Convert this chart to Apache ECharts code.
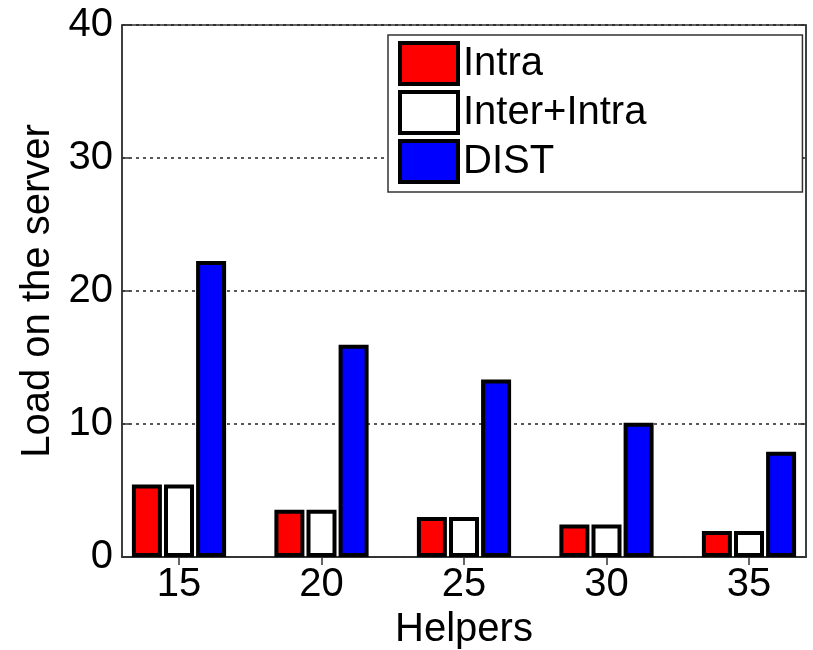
<!DOCTYPE html>
<html>
<head>
<meta charset="utf-8">
<script src="https://cdn.jsdelivr.net/npm/echarts@6/dist/echarts.min.js"></script>
<style>html,body{margin:0;padding:0;background:#fff;}#c{width:813px;height:650px;}</style>
</head>
<body>
<div id="c"></div>
<script>
// Data
var helpers = [15, 20, 25, 30, 35];
var intra = [5.45, 3.56, 3.0, 2.45, 1.95];
var interIntra = [5.45, 3.56, 3.0, 2.45, 1.95];
var dist = [22.25, 15.95, 13.35, 10.1, 7.92];
var seriesNames = ['Intra', 'Inter+Intra', 'DIST'];

function pairs(vals) { return helpers.map(function (h, i) { return [h, vals[i]]; }); }

var FONT = "'Liberation Sans', Arial, sans-serif";
var chart = echarts.init(document.getElementById('c'), null, { renderer: 'canvas' });
var barCommon = {
  type: 'bar',
  barWidth: 30,
  barGap: '7%',
  emphasis: { disabled: true }
};
var option = {
  animation: false,
  backgroundColor: '#fff',
  grid: { left: 122, right: 7, top: 25, bottom: 93, outerBoundsMode: 'none', containLabel: false, show: true, borderColor: '#333', borderWidth: 1.5, backgroundColor: 'transparent' },
  legend: {
    orient: 'vertical',
    left: 388, top: 35,
    icon: 'rect',
    itemWidth: 58, itemHeight: 41,
    itemGap: 4,
    itemTextGap: 5,
    padding: [6, 156, 8, 10],
    borderColor: '#333', borderWidth: 1.5,
    backgroundColor: '#fff',
    textStyle: { fontSize: 40, fontFamily: FONT, color: '#000' },
    itemStyle: { borderColor: '#000', borderWidth: 4 },
    data: seriesNames
  },
  xAxis: [{
    type: 'value', min: 13, max: 37,
    name: 'Helpers', nameLocation: 'middle', nameGap: 48,
    nameTextStyle: { fontSize: 40, fontFamily: FONT, color: '#000' },
    axisLine: { show: true, lineStyle: { color: '#333', width: 1.5 } },
    axisTick: { show: true, inside: true, length: 8, customValues: helpers, lineStyle: { color: '#333', width: 1.5 } },
    axisLabel: { customValues: helpers, fontSize: 40, fontFamily: FONT, color: '#000', margin: 8 },
    splitLine: { show: false }
  }, {
    type: 'value', min: 13, max: 37, position: 'top',
    axisLine: { show: true, lineStyle: { color: '#333', width: 1.5 } },
    axisTick: { show: true, inside: true, length: 8, customValues: helpers, lineStyle: { color: '#333', width: 1.5 } },
    axisLabel: { show: false },
    splitLine: { show: false }
  }],
  yAxis: [{
    type: 'value', min: 0, max: 40, interval: 10,
    name: 'Load on the server', nameLocation: 'middle', nameGap: 60,
    nameTextStyle: { fontSize: 40, fontFamily: FONT, color: '#000' },
    axisLine: { show: true, lineStyle: { color: '#333', width: 1.5 } },
    axisTick: { show: true, inside: true, length: 8, lineStyle: { color: '#333', width: 1.5 } },
    axisLabel: { fontSize: 40, fontFamily: FONT, color: '#000', margin: 9 },
    splitLine: { show: true, lineStyle: { color: '#222', width: 1.5, type: [3, 4] } }
  }, {
    type: 'value', min: 0, max: 40, interval: 10, position: 'right',
    axisLine: { show: true, lineStyle: { color: '#333', width: 1.5 } },
    axisTick: { show: true, inside: true, length: 8, lineStyle: { color: '#333', width: 1.5 } },
    axisLabel: { show: false },
    splitLine: { show: false }
  }],
  series: [
    Object.assign({}, barCommon, { name: seriesNames[0], data: pairs(intra), itemStyle: { color: '#ff0000', borderColor: '#000', borderWidth: 4 } }),
    Object.assign({}, barCommon, { name: seriesNames[1], data: pairs(interIntra), itemStyle: { color: '#ffffff', borderColor: '#000', borderWidth: 4 } }),
    Object.assign({}, barCommon, { name: seriesNames[2], data: pairs(dist), itemStyle: { color: '#0000ff', borderColor: '#000', borderWidth: 4 } })
  ]
};
chart.setOption(option);
</script>
</body>
</html>
